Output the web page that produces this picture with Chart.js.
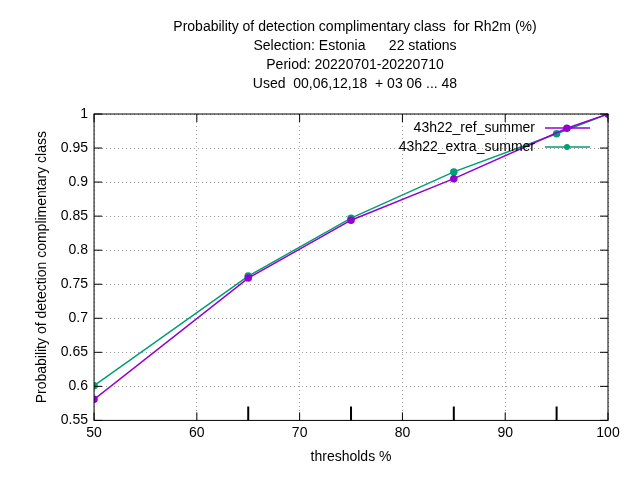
<!DOCTYPE html>
<html>
<head>
<meta charset="utf-8">
<script src="https://cdn.jsdelivr.net/npm/chart.js@4"></script>
<style>body{margin:0;background:#fff}</style>
</head>
<body>
<canvas id="c" width="640" height="480"></canvas>
<script>
// data
const titleLines = [
    'Probability of detection complimentary class  for Rh2m (%)',
    'Selection: Estonia      22 stations',
    'Period: 20220701-20220710',
    'Used  00,06,12,18  + 03 06 ... 48'
];
const refX = [50, 65, 75, 85, 96, 100];
const refY = [0.581, 0.759, 0.844, 0.905, 0.979, 1.0];
const extraX = [50, 65, 75, 85, 95, 100];
const extraY = [0.601, 0.762, 0.847, 0.915, 0.971, 1.0];
const seriesNames = ['43h22_ref_summer', '43h22_extra_summer'];
const colors = ['#9400d3', '#009e73'];

const font = 'Liberation Sans, Arial, sans-serif';

const gnuplotFrame = {
    id: 'gnuplotFrame',
    afterDraw(chart) {
        const ctx = chart.ctx, a = chart.chartArea;
        const xs = chart.scales.x, ys = chart.scales.y;
        ctx.save();
        ctx.strokeStyle = '#000';
        ctx.lineWidth = 1;
        ctx.strokeRect(a.left, a.top, a.right - a.left, a.bottom - a.top);
        // inward tick marks
        ctx.beginPath();
        for (let v = 50; v <= 100; v += 10) {
            const px = xs.getPixelForValue(v);
            ctx.moveTo(px, a.bottom); ctx.lineTo(px, a.bottom - 8);
            ctx.moveTo(px, a.top); ctx.lineTo(px, a.top + 8);
        }
        for (let v = 0.55; v <= 1.0001; v += 0.05) {
            const py = ys.getPixelForValue(v);
            ctx.moveTo(a.left, py); ctx.lineTo(a.left + 8, py);
            ctx.moveTo(a.right, py); ctx.lineTo(a.right - 8, py);
        }
        ctx.stroke();
        // extra threshold ticks
        ctx.lineWidth = 2;
        ctx.beginPath();
        [65, 75, 85, 95].forEach(v => {
            const px = xs.getPixelForValue(v);
            ctx.moveTo(px, a.bottom); ctx.lineTo(px, a.bottom - 14);
        });
        ctx.stroke();
        // title
        ctx.fillStyle = '#000';
        ctx.font = '14px ' + font;
        ctx.textAlign = 'center';
        ctx.textBaseline = 'middle';
        titleLines.forEach((t, i) => ctx.fillText(t, 355, 27 + i * 19));
        // legend
        ctx.textAlign = 'right';
        seriesNames.forEach((n, i) => {
            const y = 128 + i * 19;
            ctx.fillStyle = '#000';
            ctx.fillText(n, 535, y);
            ctx.strokeStyle = colors[i];
            ctx.lineWidth = 1.5;
            ctx.beginPath(); ctx.moveTo(545, y); ctx.lineTo(590, y); ctx.stroke();
            ctx.fillStyle = colors[i];
            ctx.beginPath(); ctx.arc(567, y, 3, 0, Math.PI * 2); ctx.fill();
        });
        ctx.restore();
    }
};

new Chart(document.getElementById('c').getContext('2d'), {
    type: 'line',
    data: {
        datasets: [
            { label: seriesNames[0], data: refX.map((x, i) => ({x: x, y: refY[i]})),
              borderColor: colors[0], backgroundColor: colors[0], borderWidth: 1.5,
              pointRadius: 3, pointStyle: 'circle' },
            { label: seriesNames[1], data: extraX.map((x, i) => ({x: x, y: extraY[i]})),
              borderColor: colors[1], backgroundColor: colors[1], borderWidth: 1.5,
              pointRadius: 3, pointStyle: 'circle' }
        ]
    },
    options: {
        responsive: false,
        animation: false,
        layout: { padding: { top: 114, right: 32, left: 30, bottom: 10 } },
        plugins: { legend: { display: false }, title: { display: false }, tooltip: { enabled: false } },
        scales: {
            x: {
                type: 'linear', min: 50, max: 100,
                ticks: { stepSize: 10, color: '#000', font: { family: font, size: 14 }, padding: 4 },
                grid: { color: '#a0a0a0', drawTicks: false },
                border: { display: false, dash: [1, 3] },
                title: { display: true, text: 'thresholds %', color: '#000', font: { family: font, size: 14 } }
            },
            y: {
                min: 0.55, max: 1,
                ticks: { stepSize: 0.05, color: '#000', font: { family: font, size: 14 }, padding: 6,
                         callback: v => String(Math.round(v * 100) / 100) },
                grid: { color: '#a0a0a0', drawTicks: false },
                border: { display: false, dash: [1, 3] },
                title: { display: true, text: 'Probability of detection complimentary class', color: '#000',
                         font: { family: font, size: 14 } }
            }
        }
    },
    plugins: [gnuplotFrame]
});
</script>
</body>
</html>
